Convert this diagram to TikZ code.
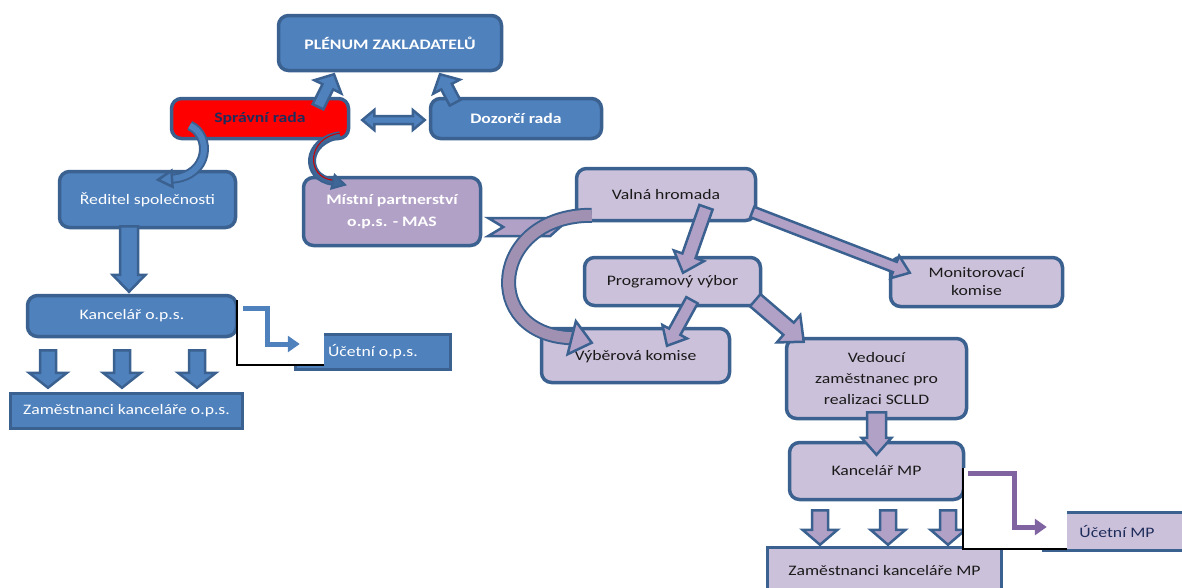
\documentclass[tikz,border=0pt]{standalone}
\usepackage{fontspec}
\setmainfont{Carlito}[FakeStretch=1.22]
\usetikzlibrary{calc,arrows.meta}

\definecolor{bluefill}{HTML}{4F81BD}
\definecolor{blueline}{HTML}{3B6190}
\definecolor{lilac}{HTML}{CCC1DA}
\definecolor{mauve}{HTML}{B2A1C7}
\definecolor{violet}{HTML}{8064A2}
\definecolor{navytext}{HTML}{1F2D5C}
\definecolor{darktext}{HTML}{1A1A1A}

\newcommand{\boxfont}{\fontsize{14.5}{20}\selectfont}
% block arrow: style, tail, tip, shaft half width, head half width, head length
\newcommand{\barrow}[6]{%
  \coordinate (hb) at ($(#3)!#6!(#2)$);
  \filldraw[#1] ($(#2)!#4!90:(#3)$) -- ($(hb)!#4!-90:(#2)$) -- ($(hb)!#5!-90:(#2)$) -- (#3)
    -- ($(hb)!#5!90:(#2)$) -- ($(hb)!#4!90:(#2)$) -- ($(#2)!#4!-90:(#3)$) -- cycle;}
\newcommand{\dblarrow}[6]{%
  \coordinate (ha) at ($(#2)!#6!(#3)$);
  \coordinate (hb) at ($(#3)!#6!(#2)$);
  \filldraw[#1] (#2) -- ($(ha)!#5!90:(#3)$) -- ($(ha)!#4!90:(#3)$) -- ($(hb)!#4!-90:(#2)$)
    -- ($(hb)!#5!-90:(#2)$) -- (#3) -- ($(hb)!#5!90:(#2)$) -- ($(hb)!#4!90:(#2)$)
    -- ($(ha)!#4!-90:(#3)$) -- ($(ha)!#5!-90:(#3)$) -- cycle;}
\newcommand{\ahead}[4]{%
  \filldraw[#1] ($(#2)!#4!90:(#3)$) -- (#3) -- ($(#2)!#4!-90:(#3)$) -- cycle;}

\begin{document}
\begin{tikzpicture}[
    x=1pt, y=-1pt,
    font=\boxfont,
    box/.style={draw=blueline, line width=3.5pt, rounded corners=10pt, align=center, inner sep=2pt},
    sharpbox/.style={box, rounded corners=0pt},
    bold/.style={font=\boxfont\bfseries},
    bluebox/.style={fill=bluefill, text=white},
    redbox/.style={box, bold, fill=red, text=navytext},
    mauvebox/.style={box, bold, fill=mauve, text=white},
    lilacbox/.style={box, fill=lilac, text=darktext},
    blk/.style={fill=bluefill, draw=blueline, line width=2.5pt},
    pblk/.style={fill=mauve, draw=blueline, line width=2.5pt},
    elbow/.style={line width=5pt, -{Triangle[length=12pt,width=16pt]}}
  ]
  \useasboundingbox[fill=white] (0,0) rectangle (1182,587);

  \node[box, bold, bluebox, minimum width=223pt, minimum height=55pt] (plenum) at (390,43) {PLÉNUM ZAKLADATELŮ};
  \node[redbox, minimum width=177pt, minimum height=40pt] (sprava) at (260,118.5) {Správní rada};
  \node[box, bold, bluebox, minimum width=171pt, minimum height=40pt] (dozor) at (516,118.5) {Dozorčí rada};
  \node[box, bluebox, minimum width=176pt, minimum height=56pt] (reditel) at (147.5,199.5) {Ředitel společnosti};
  \node[mauvebox, minimum width=177pt, minimum height=68pt, font=\fontsize{14.5}{22}\selectfont\bfseries] (mistni) at (392,211.5) {Místní partnerství\\o.p.s. - MAS};
  \node[lilacbox, minimum width=179pt, minimum height=52pt] (valna) at (666,194.5) {Valná hromada};
  \node[lilacbox, minimum width=176pt, minimum height=48pt] (program) at (672.5,281.5) {Programový výbor};
  \node[lilacbox, minimum width=172pt, minimum height=49pt, font=\fontsize{14.5}{18}\selectfont] (monitor) at (976.5,282) {Monitorovací\\komise};
  \node[lilacbox, minimum width=188pt, minimum height=54pt, text depth=-3pt] (vyber) at (635.5,355.5) {Výběrová komise};
  \node[lilacbox, minimum width=180pt, minimum height=80pt, font=\fontsize{14.5}{21}\selectfont] (vedouci) at (876.5,378.5) {Vedoucí\\zaměstnanec pro\\realizaci SCLLD};
  \node[lilacbox, minimum width=174pt, minimum height=57pt] (kancMP) at (876.5,471) {Kancelář MP};
  \node[lilacbox, sharpbox, text=navytext, minimum width=147pt, minimum height=38pt] (ucetMP) at (1117,531.5) {Účetní MP};
  \node[lilacbox, sharpbox, minimum width=234pt, minimum height=46pt] (zamMP) at (884.5,570.5) {Zaměstnanci kanceláře MP};
  \node[box, bluebox, minimum width=209pt, minimum height=41pt] (kancOps) at (132,316) {Kancelář o.p.s.};
  \node[sharpbox, bluebox, minimum width=155pt, minimum height=35pt] (ucetOps) at (373,352) {Účetní o.p.s.};
  \node[sharpbox, bluebox, minimum width=232pt, minimum height=35pt] (zamOps) at (126.5,411) {Zaměstnanci kanceláře o.p.s.};

  \coordinate (t1) at ([xshift=58pt,yshift=-10pt]sprava.north);
  \coordinate (h1) at ([xshift=-56pt,yshift=-2pt]plenum.south);
  \barrow{blk}{t1}{h1}{6pt}{15pt}{14pt}
  \coordinate (t2) at ([xshift=-61pt,yshift=-6pt]dozor.north);
  \coordinate (h2) at ([xshift=50pt,yshift=-2pt]plenum.south);
  \barrow{blk}{t2}{h2}{6pt}{15pt}{14pt}
  \coordinate (d1) at ([xshift=12pt,yshift=-1.5pt]sprava.east);
  \coordinate (d2) at ([xshift=-4pt,yshift=-1.5pt]dozor.west);
  \dblarrow{blk}{d1}{d2}{4pt}{10pt}{12pt}

  \coordinate (c1s) at ([xshift=20pt,yshift=-7pt]sprava.west);
  \coordinate (c1b) at ([xshift=24.5pt,yshift=-9pt]reditel.north);
  \coordinate (c1t) at ([xshift=10.5pt,yshift=-10pt]reditel.north);
  \draw[blueline, line width=2pt, double=bluefill, double distance=6pt] (c1s) .. controls +(22,10) and +(38,-3) .. (c1b);
  \ahead{blk}{c1b}{c1t}{8pt}
  \coordinate (c2s) at ([xshift=80pt,yshift=5pt]sprava.south);
  \coordinate (c2b) at ([xshift=-59pt,yshift=-6pt]mistni.north);
  \coordinate (c2t) at ([xshift=-47pt,yshift=-9pt]mistni.north);
  \draw[blueline, line width=2pt, double=blueline!85!bluefill, double distance=4pt] (c2s) .. controls +(-35,5) and +(-30,-4) .. (c2b);
  \draw[red!80!black, line width=1pt] ([yshift=2pt]c2s) .. controls +(-33,4) and +(-28,-3) .. ([yshift=1.5pt]c2b);
  \ahead{fill=blueline!85!bluefill, draw=blueline, line width=2pt}{c2b}{c2t}{7pt}

  \coordinate (t3) at ([xshift=-18.5pt,yshift=3pt]reditel.south);
  \coordinate (h3) at ([xshift=-3pt,yshift=2pt]kancOps.north);
  \barrow{blk}{t3}{h3}{9pt}{16.5pt}{17pt}
  \foreach \a/\b in {-84/-78.5, -10/-4.5, 65/70.5} {
    \coordinate (ft) at ([xshift=\a pt,yshift=-12pt]kancOps.south);
    \coordinate (fh) at ([xshift=\b pt,yshift=4pt]zamOps.north);
    \barrow{blk}{ft}{fh}{8pt}{19pt}{15pt}
  }

  \coordinate (ch) at ([xshift=6pt,yshift=-15.5pt]mistni.east);
  \filldraw[pblk] (ch) ++(0,-9) -- ++(62,0) -- ++(10,9) -- ++(-10,9) -- ++(-62,0) -- ++(15,-9) -- cycle;

  \coordinate (c3s) at ([xshift=17pt,yshift=7pt]valna.south west);
  \coordinate (c3b) at ([xshift=32pt,yshift=-11pt]vyber.north west);
  \coordinate (c3t) at ([xshift=52pt,yshift=-16pt]vyber.north west);
  \draw[blueline, line width=2pt, double=mauve!90!black, double distance=11pt] (c3s) .. controls +(-102,0) and +(-92,-3) .. (c3b);
  \ahead{pblk}{c3b}{c3t}{17pt}

  \coordinate (t4) at ([xshift=40pt,yshift=15pt]valna.south);
  \coordinate (h4) at ([xshift=10.5pt,yshift=-17pt]program.north);
  \barrow{pblk}{t4}{h4}{7pt}{16pt}{18pt}
  \coordinate (t5) at ([xshift=-5pt,yshift=-17.5pt]valna.east);
  \coordinate (h5) at ([xshift=21pt,yshift=-17pt]monitor.north west);
  \barrow{pblk}{t5}{h5}{5.5pt}{12pt}{16pt}
  \coordinate (t6) at ([xshift=19.5pt,yshift=7pt]program.south);
  \coordinate (h6) at ([xshift=31.5pt,yshift=-19pt]vyber.north);
  \barrow{pblk}{t6}{h6}{6.5pt}{14pt}{16pt}
  \coordinate (t7) at ([xshift=-7pt,yshift=7pt]program.south east);
  \coordinate (h7) at ([xshift=19pt,yshift=-5pt]vedouci.north west);
  \barrow{pblk}{t7}{h7}{8pt}{18pt}{20pt}
  \coordinate (t8) at ([yshift=8pt]vedouci.south);
  \coordinate (h8) at ([yshift=-14pt]kancMP.north);
  \barrow{pblk}{t8}{h8}{9.5pt}{15pt}{17pt}
  \foreach \a/\b in {-56.5/-64.5, 11.5/3.5, 71.5/63.5} {
    \coordinate (ft) at ([xshift=\a pt,yshift=-9pt]kancMP.south);
    \coordinate (fh) at ([xshift=\b pt,yshift=1pt]zamMP.north);
    \barrow{pblk}{ft}{fh}{8pt}{17.5pt}{15pt}
  }

  \fill[white] (237,300) rectangle (324,365);
  \draw[black, line width=1.2pt] (237,300) |- (324,365);
  \fill[white] (963,468) rectangle (1067,549);
  \draw[black, line width=1.2pt] (963,468) |- (1067,549);

  \coordinate (e1s) at ([xshift=5pt,yshift=8pt]kancOps.east);
  \coordinate (e1e) at ([xshift=6pt,yshift=8pt]ucetOps.west);
  \coordinate (e1m) at ([xshift=-32pt]e1e);
  \draw[elbow, bluefill] (e1s) -| (e1m) |- (e1e);
  \coordinate (e2s) at ([xshift=3pt,yshift=-2pt]kancMP.east);
  \coordinate (e2e) at ([xshift=5pt,yshift=4.5pt]ucetMP.west);
  \coordinate (e2m) at ([xshift=-32pt]e2e);
  \draw[elbow, violet] (e2s) -| (e2m) |- (e2e);
\end{tikzpicture}
\end{document}
